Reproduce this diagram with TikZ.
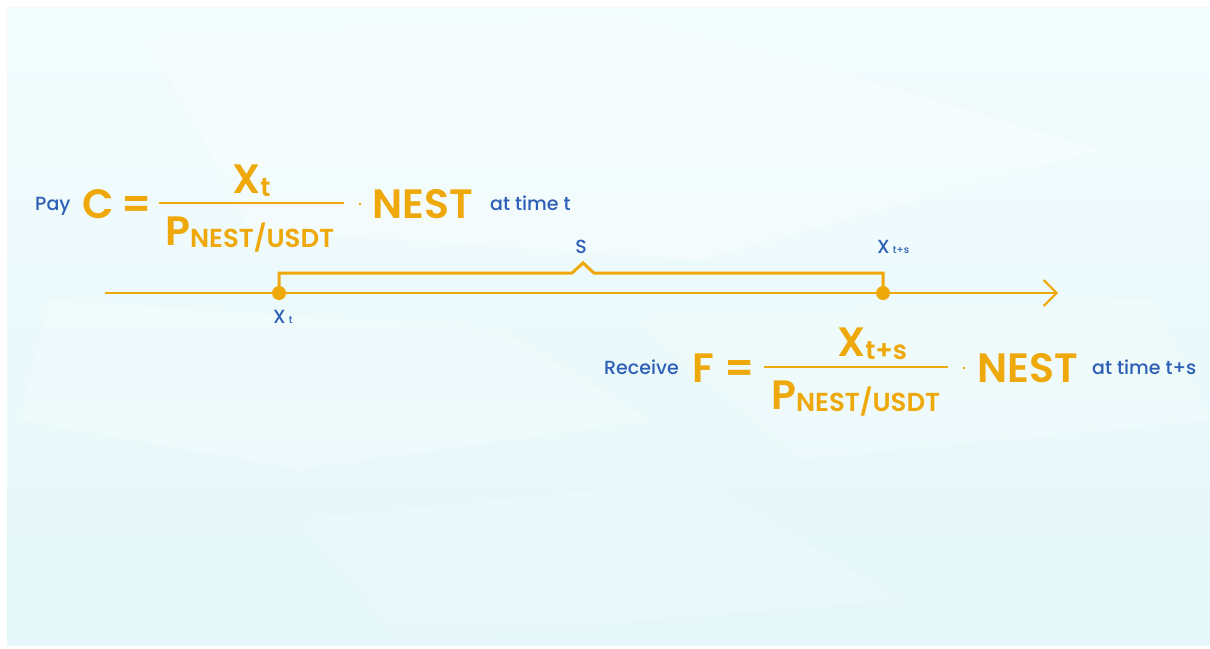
\documentclass[tikz,border=0pt]{standalone}
\usepackage{fontspec}
\setmainfont{Poppins}
\newfontfamily\goldfont{Poppins}[UprightFont=* SemiBold]
\newfontfamily\bluefont{Poppins}[UprightFont=* Medium]
\usetikzlibrary{arrows.meta}
\definecolor{gold}{HTML}{EEA80A}
\definecolor{nblue}{HTML}{2C5FB5}
\definecolor{bgtop}{HTML}{F3FCFD}
\definecolor{bgbot}{HTML}{E5F7F9}
\newcommand{\bigf}{\goldfont\fontsize{41}{41}\selectfont}
\newcommand{\subf}{\goldfont\fontsize{26}{26}\selectfont}
\newcommand{\lblf}{\bluefont\fontsize{19}{19}\selectfont}
\newcommand{\smf}{\bluefont\fontsize{19}{19}\selectfont}
\newcommand{\tinyf}{\bluefont\fontsize{10}{10}\selectfont}
\begin{document}
\begin{tikzpicture}[x=1pt,y=-1pt,
  gold text/.style={text=gold,inner sep=0pt,anchor=base west},
  blue text/.style={text=nblue,inner sep=0pt,anchor=base west},
  axis line/.style={draw=gold,line width=2.2pt},
  brace line/.style={draw=gold,line width=3pt,line join=miter},
  frac line/.style={draw=gold,line width=2pt},
  dotnode/.style={circle,fill=gold,inner sep=0pt,minimum size=14pt}]
% background
\fill[white] (0,0) rectangle (1210,648);
\shade[top color=bgtop,bottom color=bgbot] (7,7) rectangle (1210,645);
\fill[white,opacity=0.3] (150,40) -- (620,20) -- (900,90) -- (1100,150) -- (700,260) -- (250,230) -- cycle;
\fill[white,opacity=0.25] (50,300) -- (500,330) -- (650,420) -- (300,470) -- (20,420) -- cycle;
\fill[white,opacity=0.2] (640,320) -- (1150,300) -- (1210,420) -- (800,460) -- cycle;
\fill[white,opacity=0.15] (300,520) -- (700,480) -- (900,600) -- (400,640) -- cycle;

% timeline
\coordinate (tstart) at (105,293);
\coordinate (tend) at (1058,293);
\node[dotnode] (d1) at (279,293) {};
\node[dotnode] (d2) at (883,293) {};
\draw[axis line,-{Straight Barb[length=13pt,width=26pt,line width=2pt]}] (tstart) -- (tend);

% brace
\coordinate (peak) at (583,263);
\draw[brace line] (d1.center) -- ++(0,-20) -- (572,273) -- (peak) -- (594,273) -- (d2.center |- 0,273) -- (d2.center);
\node[blue text,anchor=base] (slbl) at (581,253) {\smf S};
\node[blue text] (xts) at (877,253) {\smf X\,\tinyf t+s};
\node[blue text] (xt) at (273,323) {\smf X\,\tinyf t};

% top formula
\node[blue text] (pay) at (35,210) {\lblf Pay};
\node[gold text] (C) at (82,218) {\bigf C};
\node[gold text] (eq1) at (121,218) {\bigf =};
\coordinate (fl1) at (159,203);
\coordinate (fr1) at (344,203);
\draw[frac line] (fl1) -- (fr1);
\node[gold text] (num1) at (232,193) {\bigf X\raisebox{-3pt}{\subf t}};
\node[gold text] (den1) at (165,245) {\bigf P\raisebox{-2pt}{\subf NEST/USDT}};
\fill[gold] (360,204) circle (1.4pt);
\node[gold text] (nest1) at (372,218) {\bigf NEST};
\node[blue text] (at1) at (490,210) {\lblf at time t};

% bottom formula
\node[blue text] (rec) at (604,374) {\lblf Receive};
\node[gold text] (F) at (692,382) {\bigf F};
\node[gold text] (eq2) at (724,382) {\bigf =};
\coordinate (fl2) at (764,367);
\coordinate (fr2) at (948,367);
\draw[frac line] (fl2) -- (fr2);
\node[gold text] (num2) at (837,356) {\bigf X\raisebox{-3pt}{\subf t+s}};
\node[gold text] (den2) at (771,409) {\bigf P\raisebox{-2pt}{\subf NEST/USDT}};
\fill[gold] (964,368) circle (1.4pt);
\node[gold text] (nest2) at (977,382) {\bigf NEST};
\node[blue text] (at2) at (1092,374) {\lblf at time t+s};
\end{tikzpicture}
\end{document}
